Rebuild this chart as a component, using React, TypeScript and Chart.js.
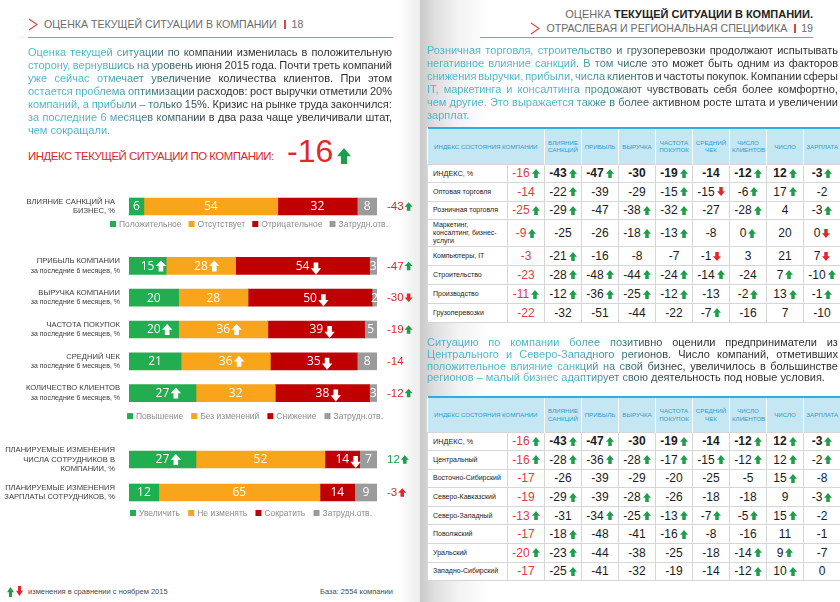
import React, { useEffect, useRef } from 'react';
import { Chart, registerables } from 'chart.js';

Chart.register(...registerables);

// ---------- LEFT PAGE BAR CHART DATA ----------
const sanctionCategories = [['ВЛИЯНИЕ САНКЦИЙ НА', 'БИЗНЕС, %']];
const sanctionPositive = [6];
const sanctionAbsent = [54];
const sanctionNegative = [32];
const sanctionUnsure = [8];
const sanctionArrows = [[''], [''], [''], ['']];
const sanctionIndex = [-43];
const sanctionIndexArrows = ['up-green'];
const sanctionLegend = ['Положительное', 'Отсутствует', 'Отрицательное', 'Затрудн.отв.'];

const dynamicsCategories = [
  ['ПРИБЫЛЬ КОМПАНИИ', 'за последние 6 месяцев, %'],
  ['ВЫРУЧКА КОМПАНИИ', 'за последние 6 месяцев, %'],
  ['ЧАСТОТА ПОКУПОК', 'за последние 6 месяцев, %'],
  ['СРЕДНИЙ ЧЕК', 'за последние 6 месяцев, %'],
  ['КОЛИЧЕСТВО КЛИЕНТОВ', 'за последние 6 месяцев, %'],
];
const dynamicsIncrease = [15, 20, 20, 21, 27];
const dynamicsIncreaseArrows = ['up', '', 'up', '', 'up'];
const dynamicsSame = [28, 28, 36, 36, 32];
const dynamicsSameArrows = ['up', '', 'up', 'up', ''];
const dynamicsDecrease = [54, 50, 39, 35, 38];
const dynamicsDecreaseArrows = ['down', 'down', 'down', 'down', 'down'];
const dynamicsUnsure = [3, 2, 5, 8, 3];
const dynamicsUnsureArrows = ['', '', '', '', ''];
const dynamicsIndex = [-47, -30, -19, -14, -12];
const dynamicsIndexArrows = ['up-green', 'down-red', 'up-green', '', 'up-green'];
const dynamicsLegend = ['Повышение', 'Без изменений', 'Снижение', 'Затрудн.отв.'];

const planCategories = [
  ['ПЛАНИРУЕМЫЕ ИЗМЕНЕНИЯ', 'ЧИСЛА СОТРУДНИКОВ В', 'КОМПАНИИ, %'],
  ['ПЛАНИРУЕМЫЕ ИЗМЕНЕНИЯ', 'ЗАРПЛАТЫ СОТРУДНИКОВ, %'],
];
const planIncrease = [27, 12];
const planIncreaseArrows = ['up', ''];
const planKeep = [52, 65];
const planKeepArrows = ['', ''];
const planCut = [14, 14];
const planCutArrows = ['down', ''];
const planUnsure = [7, 9];
const planUnsureArrows = ['', ''];
const planIndex = [12, -3];
const planIndexArrows = ['up-green', 'up-red'];
const planLegend = ['Увеличить', 'Не изменять', 'Сократить', 'Затрудн.отв.'];

// ---------- RIGHT PAGE TABLE DATA ----------
const tableColumns = ['ВЛИЯНИЕ САНКЦИЙ', 'ПРИБЫЛЬ', 'ВЫРУЧКА', 'ЧАСТОТА ПОКУПОК', 'СРЕДНИЙ ЧЕК', 'ЧИСЛО КЛИЕНТОВ', 'ЧИСЛО', 'ЗАРПЛАТА'];
const indexRow = ['-16u', '-43u', '-47u', '-30', '-19u', '-14', '-12u', '12u', '-3u'];

const sectorNames = ['Оптовая торговля', 'Розничная торговля', 'Маркетинг,\nконсалтинг, бизнес-\nуслуги', 'Компьютеры, IT', 'Строительство', 'Производство', 'Грузоперевозки'];
const sectorWholesale = ['-14', '-22u', '-39', '-29', '-15u', '-15d', '-6u', '17u', '-2'];
const sectorRetail = ['-25u', '-29u', '-47', '-38u', '-32u', '-27', '-28u', '4', '-3u'];
const sectorMarketing = ['-9u', '-25', '-26', '-18u', '-13u', '-8', '0u', '20', '0d'];
const sectorIT = ['-3', '-21u', '-16', '-8', '-7', '-1d', '3', '21', '7d'];
const sectorConstruction = ['-23', '-28u', '-48u', '-44u', '-24u', '-14u', '-24', '7u', '-10u'];
const sectorManufacturing = ['-11u', '-12u', '-36u', '-25u', '-12u', '-13', '-2u', '13u', '-1u'];
const sectorFreight = ['-22', '-32', '-51', '-44', '-22', '-7u', '-16', '7', '-10'];

const regionNames = ['Центральный', 'Восточно-Сибирский', 'Северо-Кавказский', 'Северо-Западный', 'Поволжский', 'Уральский', 'Западно-Сибирский'];
const regionCentral = ['-16u', '-28u', '-36u', '-28u', '-17u', '-15u', '-12u', '12u', '-2u'];
const regionEastSiberia = ['-17', '-26', '-39', '-29', '-20', '-25', '-5', '15u', '-8'];
const regionNorthCaucasus = ['-19', '-29u', '-39', '-28u', '-26', '-18', '-18', '9', '-3u'];
const regionNorthWest = ['-13u', '-31', '-34u', '-25u', '-13u', '-7u', '-5u', '15u', '-2'];
const regionVolga = ['-17', '-18u', '-48', '-41', '-16u', '-8', '-16', '11', '-1'];
const regionUral = ['-20u', '-23u', '-44', '-38', '-25', '-18', '-14u', '9u', '-7'];
const regionWestSiberia = ['-17', '-25u', '-41', '-32', '-19', '-14', '-12u', '10u', '0'];

// ---------- TEXT ----------
const leftLines = [
  'Оценка текущей ситуации по компании изменилась в положительную',
  'сторону, вернувшись на уровень июня 2015 года. Почти треть компаний',
  'уже сейчас отмечает увеличение количества клиентов. При этом',
  'остается проблема оптимизации расходов: рост выручки отметили 20%',
  'компаний, а прибыли – только 15%. Кризис на рынке труда закончился:',
  'за последние 6 месяцев компании в два раза чаще увеличивали штат,',
  'чем сокращали.',
];
const rightLines1 = [
  'Розничная торговля, строительство и грузоперевозки продолжают испытывать',
  'негативное влияние санкций. В том числе это может быть одним из факторов',
  'снижения выручки, прибыли, числа клиентов и частоты покупок. Компании сферы',
  'IT, маркетинга и консалтинга продожают чувствовать себя более комфортно,',
  'чем другие. Это выражается также в более активном росте штата и увеличении',
  'зарплат.',
];
const rightLines2 = [
  'Ситуацию по компании более позитивно оценили предприниматели из',
  'Центрального и Северо-Западного регионов. Число компаний, отметивших',
  'положительное влияние санкций на свой бизнес, увеличилось в большинстве',
  'регионов –  малый бизнес адаптирует свою деятельность под новые условия.',
];

const GREEN = '#22ad50';
const ORANGE = '#f9a51b';
const RED = '#c00000';
const GRAY = '#9b9b9b';
const SERIES_COLORS = [GREEN, ORANGE, RED, GRAY];
const ARROW_GREEN = '#1e9e4a';
const ARROW_RED = '#e2262b';
const IDX_RED = '#d9272d';
const SANS = '"Liberation Sans", Arial, sans-serif';
const SOFT = '"Open Sans", "Noto Sans", sans-serif';

function drawArrow(ctx: CanvasRenderingContext2D, cx: number, cy: number, w: number, h: number, dir: string, color: string) {
  const hh = h * 0.52;
  const sw = w * 0.44;
  const s = dir === 'up' ? 1 : -1;
  const tip = cy - (s * h) / 2;
  const mid = tip + s * hh;
  const end = cy + (s * h) / 2;
  ctx.beginPath();
  ctx.moveTo(cx, tip);
  ctx.lineTo(cx + w / 2, mid);
  ctx.lineTo(cx + sw / 2, mid);
  ctx.lineTo(cx + sw / 2, end);
  ctx.lineTo(cx - sw / 2, end);
  ctx.lineTo(cx - sw / 2, mid);
  ctx.lineTo(cx - w / 2, mid);
  ctx.closePath();
  ctx.fillStyle = color;
  ctx.fill();
}

type DecorCfg = {
  labels: string[][];
  arrows: string[][];
  index: number[];
  indexArrows: string[];
  legend: string[];
  legendDy: number;
  legendX0: number;
  legendX1: number;
  labelRight: number;
};

function makeDecor(cfg: DecorCfg) {
  return {
    id: 'decor',
    afterDatasetsDraw(chart: any) {
      const ctx: CanvasRenderingContext2D = chart.ctx;
      const yScale = chart.scales.y;
      const area = chart.chartArea;
      ctx.save();
      // values inside segments
      chart.data.datasets.forEach((ds: any, di: number) => {
        const meta = chart.getDatasetMeta(di);
        meta.data.forEach((bar: any, i: number) => {
          const v = ds.data[i];
          const p = bar.getProps(['x', 'y', 'base'], true);
          const cx = (p.x + p.base) / 2;
          ctx.font = `12px ${SOFT}`;
          ctx.fillStyle = '#ffffff';
          ctx.textAlign = 'center';
          ctx.textBaseline = 'middle';
          const txt = String(v);
          ctx.fillText(txt, cx, p.y + 0.5);
          const a = cfg.arrows[di][i];
          if (a) {
            const tw = ctx.measureText(txt).width;
            drawArrow(ctx, cx + tw / 2 + 6.5, p.y + (a === 'down' ? 2.5 : 0), 10.5, a === 'down' ? 12 : 11, a, '#ffffff');
          }
        });
      });
      // category labels
      cfg.labels.forEach((lines, i) => {
        const y = yScale.getPixelForValue(i);
        const lh = 9.4;
        const y0 = y - ((lines.length - 1) * lh) / 2;
        ctx.textAlign = 'right';
        ctx.textBaseline = 'middle';
        ctx.fillStyle = '#3a3a3a';
        lines.forEach((line, li) => {
          const caps = line === line.toUpperCase();
          ctx.font = caps ? `7.6px ${SANS}` : `7px ${SANS}`;
          ctx.fillText(line, cfg.labelRight, y0 + li * lh);
        });
        // index on right
        const val = cfg.index[i];
        ctx.textAlign = 'left';
        ctx.font = `11.5px ${SANS}`;
        ctx.fillStyle = val > 0 ? ARROW_GREEN : IDX_RED;
        const t = String(val);
        const ix = area.right + 10;
        ctx.fillText(t, ix, y + 0.5);
        const ia = cfg.indexArrows[i];
        if (ia) {
          const [dir, col] = ia.split('-');
          const tw = ctx.measureText(t).width;
          drawArrow(ctx, ix + tw + 5, y, 8, 8.5, dir, col === 'green' ? ARROW_GREEN : ARROW_RED);
        }
      });
      // legend (font shrinks until items fit with a reasonable gap)
      const lastY = yScale.getPixelForValue(cfg.labels.length - 1) + cfg.legendDy;
      const sq = 6;
      const span = cfg.legendX1 - cfg.legendX0;
      let size = 10;
      let widths: number[] = [];
      let gap = 0;
      for (; size > 6; size -= 0.25) {
        ctx.font = `${size}px ${SANS}`;
        widths = cfg.legend.map((l) => sq + 3 + ctx.measureText(l).width);
        const total = widths.reduce((a, b) => a + b, 0);
        gap = (span - total) / (cfg.legend.length - 1);
        if (gap >= 7) break;
      }
      let x = cfg.legendX0;
      cfg.legend.forEach((l, i) => {
        ctx.fillStyle = chart.data.datasets[i].backgroundColor;
        ctx.fillRect(x, lastY - sq / 2, sq, sq);
        ctx.fillStyle = '#8d8d8d';
        ctx.textAlign = 'left';
        ctx.textBaseline = 'middle';
        ctx.fillText(l, x + sq + 3, lastY + 0.5);
        x += widths[i] + gap;
      });
      ctx.restore();
    },
  };
}

function BarGroup(props: {
  top: number;
  height: number;
  padTop: number;
  padBottom: number;
  series: number[][];
  decor: DecorCfg;
}) {
  const ref = useRef<HTMLCanvasElement>(null);
  useEffect(() => {
    const chart = new Chart(ref.current as HTMLCanvasElement, {
      type: 'bar',
      data: {
        labels: props.decor.labels.map((l) => l.join(' ')),
        datasets: props.series.map((d, i) => ({
          label: props.decor.legend[i],
          data: d,
          backgroundColor: SERIES_COLORS[i],
          borderWidth: 0,
          barThickness: 17,
        })),
      },
      options: {
        indexAxis: 'y',
        animation: false,
        responsive: false,
        maintainAspectRatio: false,
        layout: { padding: { left: 129, right: 43, top: props.padTop, bottom: props.padBottom } },
        scales: {
          x: { stacked: true, min: 0, max: 100, display: false },
          y: { stacked: true, display: false },
        },
        plugins: { legend: { display: false }, tooltip: { enabled: false } },
      },
      plugins: [makeDecor(props.decor)],
    } as any);
    return () => chart.destroy();
  }, []);
  return (
    <canvas
      ref={ref}
      width={420}
      height={props.height}
      style={{ position: 'absolute', left: 0, top: props.top, width: 420, height: props.height }}
    />
  );
}

function ArrowIcon({ dir, color, w, h, style }: { dir: string; color: string; w: number; h: number; style?: any }) {
  const hh = h * 0.52;
  const sw = w * 0.44;
  const l = (w - sw) / 2;
  const r = (w + sw) / 2;
  const up = `${w / 2},0 ${w},${hh} ${r},${hh} ${r},${h} ${l},${h} ${l},${hh} 0,${hh}`;
  const down = `${w / 2},${h} ${w},${h - hh} ${r},${h - hh} ${r},0 ${l},0 ${l},${h - hh} 0,${h - hh}`;
  return (
    <svg width={w} height={h} style={{ display: 'inline-block', ...style }}>
      <polygon points={dir === 'up' ? up : down} fill={color} />
    </svg>
  );
}

function Chevron({ style }: { style?: any }) {
  return (
    <svg width={10} height={13} style={{ display: 'inline-block', ...style }}>
      <polyline points="1,1 9,6.5 1,12" stroke="#e0453e" strokeWidth={1.2} fill="none" />
    </svg>
  );
}

function Para(props: { lines: string[]; left: number; top: number; width: number; fontSize: number; lineHeight: number; teal: number; dark: number }) {
  return (
    <div
      style={{
        position: 'absolute',
        left: props.left,
        top: props.top,
        width: props.width,
        fontSize: props.fontSize,
        lineHeight: `${props.lineHeight}px`,
        fontFamily: SANS,
        backgroundImage: `linear-gradient(90deg, #48b3c6 0%, #48b3c6 ${props.teal}%, #2c2c2c ${props.dark}%, #2c2c2c 100%)`,
        WebkitBackgroundClip: 'text',
        backgroundClip: 'text',
        color: 'transparent',
        WebkitTextFillColor: 'transparent',
      }}
    >
      {props.lines.map((line, i) => {
        const last = i === props.lines.length - 1;
        const words = line.split(' ').filter(Boolean);
        return (
          <div
            key={i}
            style={{
              display: 'flex',
              justifyContent: last ? 'flex-start' : 'space-between',
              columnGap: last ? '0.28em' : 0,
              whiteSpace: 'nowrap',
              height: props.lineHeight,
            }}
          >
            {words.map((w, j) => (
              <span key={j}>{w}</span>
            ))}
          </div>
        );
      })}
    </div>
  );
}

const headCell: any = {
  background: '#c5e6f3',
  color: '#2b9fcd',
  fontSize: 6.2,
  lineHeight: '7.5px',
  fontWeight: 400,
  textAlign: 'center',
  padding: '0 2px',
  borderLeft: '1px solid #ffffff',
  borderTop: '2px solid #37abd8',
  fontFamily: SANS,
};
const bodyCell: any = {
  border: '1px solid #d6d6d6',
  padding: 0,
  textAlign: 'center',
  whiteSpace: 'nowrap',
  fontFamily: SANS,
  fontSize: 12,
  color: '#1b1b1b',
};

function ValueCell({ code, bold, red }: { code: string; bold?: boolean; red?: boolean }) {
  const last = code[code.length - 1];
  const dir = last === 'u' ? 'up' : last === 'd' ? 'down' : '';
  const num = dir ? code.slice(0, -1) : code;
  return (
    <td style={bodyCell}>
      <span style={{ color: red ? '#e03a3f' : '#1b1b1b', fontWeight: bold ? 700 : 400 }}>{num}</span>
      {dir && (
        <ArrowIcon
          dir={dir}
          color={dir === 'up' ? ARROW_GREEN : ARROW_RED}
          w={8}
          h={9}
          style={{ marginLeft: 2, verticalAlign: '-0.5px' }}
        />
      )}
    </td>
  );
}

function DataTable(props: { top: number; headerHeight: number; names: string[]; rows: string[][]; rowHeights: number[] }) {
  const colW = [80, 37, 37, 37, 37, 37, 37, 37, 37, 37];
  return (
    <table
      style={{
        position: 'absolute',
        left: 427,
        top: props.top,
        width: 413,
        borderCollapse: 'collapse',
        tableLayout: 'fixed',
        background: '#ffffff',
      }}
    >
      <colgroup>
        {colW.map((w, i) => (
          <col key={i} style={{ width: w }} />
        ))}
      </colgroup>
      <tbody>
        <tr style={{ height: props.headerHeight }}>
          <th colSpan={2} style={{ ...headCell, borderLeft: 'none' }}>ИНДЕКС СОСТОЯНИЯ КОМПАНИИ</th>
          {tableColumns.map((c, i) => (
            <th key={i} style={headCell}>
              {c}
            </th>
          ))}
        </tr>
        <tr style={{ height: 18.6 }}>
          <td style={{ ...bodyCell, textAlign: 'left', paddingLeft: 5, fontSize: 7.3 }}>ИНДЕКС, %</td>
          {indexRow.map((c, i) => (
            <ValueCell key={i} code={c} bold={i > 0} red={i === 0} />
          ))}
        </tr>
        {props.names.map((n, r) => (
          <tr key={r} style={{ height: props.rowHeights[r] }}>
            <td style={{ ...bodyCell, textAlign: 'left', paddingLeft: 5, fontSize: 7, lineHeight: '8.3px', whiteSpace: 'pre-line' }}>{n}</td>
            {props.rows[r].map((c, i) => (
              <ValueCell key={i} code={c} red={i === 0} />
            ))}
          </tr>
        ))}
      </tbody>
    </table>
  );
}

export default function App() {
  return (
    <div
      style={{
        position: 'absolute',
        left: 0,
        top: 0,
        width: 840,
        height: 602,
        overflow: 'hidden',
        background: '#ffffff',
        fontFamily: SANS,
      }}
    >
      {/* spine shading */}
      <div style={{ position: 'absolute', left: 398, top: 0, width: 22, height: 602, background: 'linear-gradient(90deg, #ffffff, #ececec)' }} />
      <div style={{ position: 'absolute', left: 420, top: 0, width: 70, height: 602, background: 'linear-gradient(90deg, #c8c8c8 0%, #dedede 20%, #f3f3f3 55%, #ffffff 100%)' }} />

      {/* LEFT PAGE */}
      <div style={{ position: 'absolute', left: 28, top: 16, height: 16, display: 'flex', alignItems: 'center', fontSize: 10.6, color: '#6a6a6a', whiteSpace: 'nowrap' }}>
        <Chevron style={{ marginRight: 6 }} />
        <span>ОЦЕНКА ТЕКУЩЕЙ СИТУАЦИИ В КОМПАНИИ</span>
        <span style={{ display: 'inline-block', width: 2, height: 9, background: '#e0453e', margin: '0 6px 0 7px' }} />
        <span>18</span>
      </div>
      <div style={{ position: 'absolute', left: 28, top: 37, width: 365, height: 1, background: '#e57a72' }} />
      <Para lines={leftLines} left={28} top={45.5} width={364} fontSize={11} lineHeight={13.06} teal={20} dark={52} />

      <div style={{ position: 'absolute', left: 28, top: 150, fontSize: 11.4, letterSpacing: -0.45, color: '#d9272d', whiteSpace: 'nowrap' }}>
        ИНДЕКС ТЕКУЩЕЙ СИТУАЦИИ ПО КОМПАНИИ:
      </div>
      <div style={{ position: 'absolute', left: 287, top: 133, fontSize: 32, lineHeight: '36px', color: '#e02a2a', whiteSpace: 'nowrap' }}>-16</div>
      <ArrowIcon dir="up" color={ARROW_GREEN} w={14} h={16} style={{ position: 'absolute', left: 337, top: 148 }} />

      <BarGroup
        top={188}
        height={46}
        padTop={4}
        padBottom={13}
        series={[sanctionPositive, sanctionAbsent, sanctionNegative, sanctionUnsure]}
        decor={{
          labels: sanctionCategories,
          arrows: sanctionArrows,
          index: sanctionIndex,
          indexArrows: sanctionIndexArrows,
          legend: sanctionLegend,
          legendDy: 17.5,
          legendX0: 110,
          legendX1: 388,
          labelRight: 115,
        }}
      />
      <BarGroup
        top={240}
        height={190}
        padTop={10}
        padBottom={21}
        series={[dynamicsIncrease, dynamicsSame, dynamicsDecrease, dynamicsUnsure]}
        decor={{
          labels: dynamicsCategories,
          arrows: [dynamicsIncreaseArrows, dynamicsSameArrows, dynamicsDecreaseArrows, dynamicsUnsureArrows],
          index: dynamicsIndex,
          indexArrows: dynamicsIndexArrows,
          legend: dynamicsLegend,
          legendDy: 23,
          legendX0: 127,
          legendX1: 383,
          labelRight: 120,
        }}
      />
      <BarGroup
        top={432}
        height={95}
        padTop={11}
        padBottom={18}
        series={[planIncrease, planKeep, planCut, planUnsure]}
        decor={{
          labels: planCategories,
          arrows: [planIncreaseArrows, planKeepArrows, planCutArrows, planUnsureArrows],
          index: planIndex,
          indexArrows: planIndexArrows,
          legend: planLegend,
          legendDy: 20.5,
          legendX0: 130,
          legendX1: 372,
          labelRight: 115,
        }}
      />

      <ArrowIcon dir="up" color={ARROW_GREEN} w={7} h={10} style={{ position: 'absolute', left: 7, top: 587 }} />
      <ArrowIcon dir="down" color={ARROW_RED} w={7} h={10} style={{ position: 'absolute', left: 16, top: 586 }} />
      <div style={{ position: 'absolute', left: 28, top: 587, fontSize: 7.5, color: '#4a4a4a', whiteSpace: 'nowrap' }}>изменения в сравнении с ноябрем 2015</div>
      <div style={{ position: 'absolute', left: 320, top: 587, fontSize: 7.5, color: '#4a4a4a', whiteSpace: 'nowrap' }}>База: 2554 компании</div>

      {/* RIGHT PAGE */}
      <div style={{ position: 'absolute', right: 27, top: 7, fontSize: 11, lineHeight: '14px', color: '#6a6a6a', textAlign: 'right', whiteSpace: 'nowrap' }}>
        ОЦЕНКА <b style={{ color: '#222' }}>ТЕКУЩЕЙ СИТУАЦИИ В КОМПАНИИ.</b>
      </div>
      <div style={{ position: 'absolute', right: 27, top: 20, height: 16, display: 'flex', alignItems: 'center', fontSize: 10.6, color: '#6a6a6a', whiteSpace: 'nowrap' }}>
        <Chevron style={{ marginRight: 6 }} />
        <span>ОТРАСЛЕВАЯ И РЕГИОНАЛЬНАЯ СПЕЦИФИКА</span>
        <span style={{ display: 'inline-block', width: 2, height: 9, background: '#e0453e', margin: '0 5px 0 7px' }} />
        <span>19</span>
      </div>
      <div style={{ position: 'absolute', left: 480, top: 37, width: 333, height: 1, background: '#e57a72' }} />

      <Para lines={rightLines1} left={427} top={43.5} width={411} fontSize={11} lineHeight={13} teal={33} dark={60} />

      <DataTable
        top={127}
        headerHeight={36}
        names={sectorNames}
        rows={[sectorWholesale, sectorRetail, sectorMarketing, sectorIT, sectorConstruction, sectorManufacturing, sectorFreight]}
        rowHeights={[18.6, 18.6, 27, 18.6, 19.2, 19, 18.6]}
      />

      <Para lines={rightLines2} left={427} top={337} width={411} fontSize={11} lineHeight={11.8} teal={35} dark={62} />

      <DataTable
        top={396}
        headerHeight={35}
        names={regionNames}
        rows={[regionCentral, regionEastSiberia, regionNorthCaucasus, regionNorthWest, regionVolga, regionUral, regionWestSiberia]}
        rowHeights={[18.6, 18.6, 18.6, 18.6, 18.6, 18.6, 18.6]}
      />
    </div>
  );
}
